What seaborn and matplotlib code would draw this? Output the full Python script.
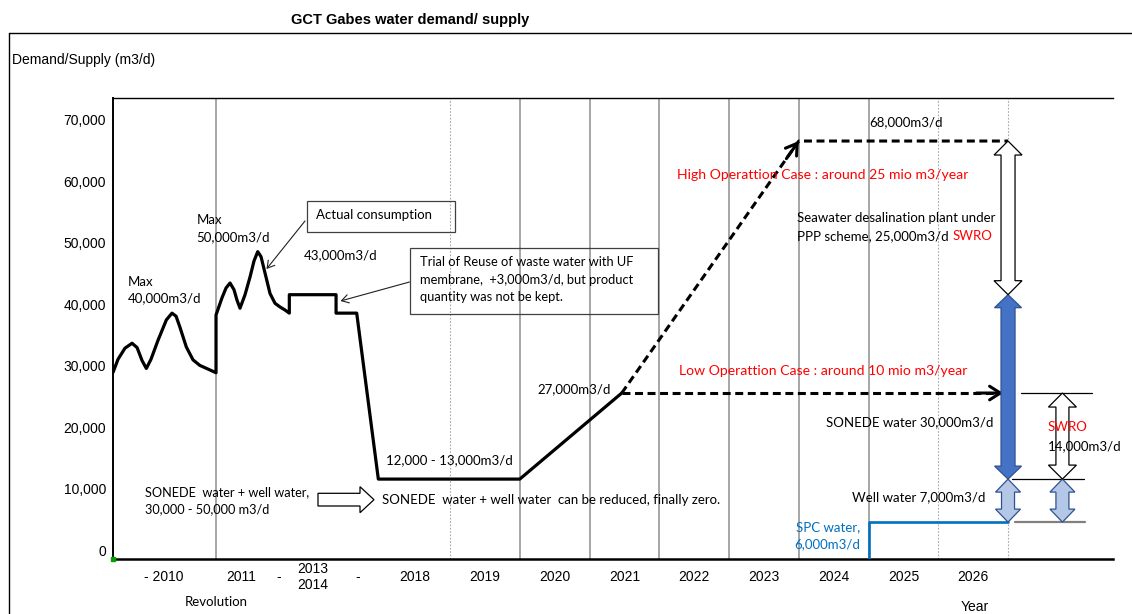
import matplotlib
matplotlib.use("Agg")
import matplotlib.pyplot as plt
from matplotlib.patches import Polygon, Rectangle
from matplotlib.lines import Line2D
from matplotlib.transforms import ScaledTranslation
import seaborn as sns

W, H = 1132, 614

# ---------------- data ----------------
# timeline axis: one unit per year column, 2018 column centred on 4.5
x_limits = (0.168, 14.505)
y_limits = (0, 75000)

tick_pos = [0.90, 2.00, 2.54, 3.03, 3.68, 4.5, 5.5, 6.5, 7.5, 8.5, 9.5, 10.5, 11.5, 12.5]
tick_labels = ["- 2010", "2011", "-", "2013\n2014", "-", "2018", "2019", "2020",
               "2021", "2022", "2023", "2024", "2025", "2026"]
y_ticks = [0, 10000, 20000, 30000, 40000, 50000, 60000, 70000]

solid_dividers = [1.645, 6, 7, 8, 9, 10, 11]
dotted_dividers = [5, 12, 13]

# actual consumption (m3/d)
demand_x = [0.17, 0.24, 0.34, 0.441, 0.513, 0.584, 0.646, 0.713, 0.814, 0.933, 1.014,
            1.072, 1.125, 1.219, 1.315, 1.412, 1.530, 1.645,
            1.645, 1.731, 1.789, 1.846, 1.903, 1.946, 1.989, 2.061, 2.133, 2.190, 2.243,
            2.290, 2.348, 2.419, 2.491, 2.563, 2.635, 2.696,
            2.696, 3.366, 3.366, 3.662, 3.972, 6.0, 7.462]
demand_y = [30400, 32500, 34300, 35100, 34400, 32300, 31000, 32500, 35600, 38900, 40000,
            39500, 37800, 34500, 32400, 31500, 30900, 30300,
            39700, 42500, 44100, 44900, 43800, 42100, 40800, 43000, 45900, 48500, 50000,
            49200, 46500, 43200, 41600, 41000, 40500, 40000,
            43000, 43000, 40000, 40000, 13000, 13000, 27000]

# projections
high_x = [7.462, 10.0, 13.0]
high_y = [27000, 68000, 68000]
low_x = [7.462, 12.93]
low_y = [27000, 27000]

# SPC water supply
spc_x = [11.0, 11.0, 13.0]
spc_y = [0, 6000, 6000]

# supply stack (m3/d)
stack_x = 13.0
stack_x2 = 13.78
spc_water = 6000
well_water = 7000
sonede_water = 30000
swro_high = 25000
swro_low = 14000

# ---------------- figure ----------------
sns.set_theme(style="white")
plt.rcParams["font.family"] = ["Liberation Sans", "DejaVu Sans"]

fig = plt.figure(figsize=(W / 100, H / 100), dpi=100)
ax = fig.add_axes([113 / W, 1 - 559 / H, 1000 / W, 461 / H])
ax.set_xlim(*x_limits)
ax.set_ylim(*y_limits)

px_x = 1000 / (x_limits[1] - x_limits[0])   # pixels per x unit
px_y = 461 / (y_limits[1] - y_limits[0])    # pixels per m3/d

CAL = ["Lato", "DejaVu Sans"]
ARI = ["Liberation Sans", "DejaVu Sans"]
CAL_SIZE = 9.5


def fp(px, py):
    """figure-pixel position measured from the top-left corner"""
    return (px, H - py)


def label(px, py, s, ha="left", color="black", fam=CAL, size=CAL_SIZE, weight="normal"):
    return ax.annotate(s, xy=fp(px, py), xycoords="figure pixels", ha=ha, va="center",
                       color=color, family=fam, fontsize=size, fontweight=weight,
                       annotation_clip=False, zorder=9)


# column dividers
for xv in solid_dividers:
    ax.axvline(xv, color="#A6A6A6", lw=1.4, zorder=1)
for xv in dotted_dividers:
    ax.axvline(xv, color="#A8A8A8", lw=0.8, ls=(0, (1.5, 1.5)), zorder=1)

# consumption line
sns.lineplot(x=demand_x, y=demand_y, sort=False, estimator=None, color="black",
             lw=2.3, ax=ax, zorder=4)
ax.lines[-1].set_solid_joinstyle("round")

# projections (dashed)
dash = (2.6, 1.5)
for xs, ys in [(high_x, high_y), (low_x, low_y)]:
    sns.lineplot(x=xs, y=ys, sort=False, estimator=None, color="black", lw=2.2, ax=ax, zorder=4)
    ax.lines[-1].set_dashes(dash)


# open arrow heads on the projections
def head(x0, y0, x1, y1):
    ax.annotate("", xy=(x1, y1), xytext=(x0 + 0.93 * (x1 - x0), y0 + 0.93 * (y1 - y0)),
                arrowprops=dict(arrowstyle="->,head_length=0.55,head_width=0.35",
                                lw=2.2, color="black", shrinkA=0, shrinkB=0,
                                mutation_scale=14), zorder=5)


head(high_x[0], high_y[0], high_x[1], high_y[1])
head(low_x[0], low_y[0], low_x[1], low_y[1])

# SPC water
sns.lineplot(x=spc_x, y=spc_y, sort=False, estimator=None, color="#0070C0", lw=1.9, ax=ax, zorder=4)


# double-headed block arrows for the supply stack
def block_arrow(x, y0, y1, shaft, width, hlen, fc, ec, lw=0.9):
    hs = shaft / 2 / px_x
    hw = width / 2 / px_x
    hl = hlen / px_y
    verts = [(x, y1), (x + hw, y1 - hl), (x + hs, y1 - hl), (x + hs, y0 + hl),
             (x + hw, y0 + hl), (x, y0), (x - hw, y0 + hl), (x - hs, y0 + hl),
             (x - hs, y1 - hl), (x - hw, y1 - hl)]
    ax.add_patch(Polygon(verts, closed=True, fc=fc, ec=ec, lw=lw, zorder=6, joinstyle="miter"))


well_top = spc_water + well_water
sonede_top = well_top + sonede_water
swro_top = sonede_top + swro_high
low_top = well_top + swro_low

block_arrow(stack_x, spc_water, well_top, 13, 25, 13, "#B4C7E7", "#2F528F")
block_arrow(stack_x, well_top, sonede_top, 14, 27, 13, "#4472C4", "#2F528F")
block_arrow(stack_x, sonede_top, swro_top, 14, 28, 14, "white", "black")
block_arrow(stack_x2, spc_water, well_top, 13, 25, 13, "#B4C7E7", "#2F528F")
block_arrow(stack_x2, well_top, low_top, 13, 28, 14, "white", "black")

# level markers beside the low-case stack
ax.plot([13.18, 14.2], [low_top, low_top], color="black", lw=0.9, clip_on=False)
ax.plot([13.05, 14.09], [well_top, well_top], color="black", lw=0.9, clip_on=False)
ax.plot([13.10, 14.10], [spc_water, spc_water], color="#808080", lw=1.6, clip_on=False)

# origin marker
ax.plot([x_limits[0]], [0], marker="s", ms=3, color="#00A000", clip_on=False, zorder=7)

# axes styling
for side in ["top", "left", "bottom"]:
    ax.spines[side].set_color("black")
ax.spines["top"].set_linewidth(1.0)
ax.spines["left"].set_linewidth(1.4)
ax.spines["bottom"].set_linewidth(1.8)
ax.spines["right"].set_visible(False)
ax.grid(False)

ax.set_yticks(y_ticks)
ax.set_yticklabels([f"{v:,}" for v in y_ticks])
ax.tick_params(axis="y", length=0, pad=5, labelsize=10, labelcolor="black")
shift = ScaledTranslation(0, 0.09, fig.dpi_scale_trans)
for t in ax.get_yticklabels():
    t.set_transform(t.get_transform() + shift)
    t.set_family(ARI)

ax.set_xticks(tick_pos)
ax.set_xticklabels(tick_labels)
ax.tick_params(axis="x", length=0, pad=13, labelsize=10, labelcolor="black")
for t in ax.get_xticklabels():
    t.set_va("center")
    t.set_linespacing(1.15)
    t.set_family(ARI)

# outer chart frame
fig.add_artist(Line2D([9 / W, 9 / W], [0, 1 - 33 / H], color="black", lw=1.0))
fig.add_artist(Line2D([9 / W, 1], [1 - 33 / H, 1 - 33 / H], color="black", lw=1.0))

# titles
label(410, 20, "GCT Gabes water demand/ supply", ha="center", fam=ARI, size=10.5, weight="bold")
label(12, 60, "Demand/Supply (m3/d)", fam=ARI, size=10)
label(975, 607, "Year", ha="center", fam=ARI, size=10)
label(216, 602, "Revolution", ha="center")

# annotations
label(128, 281.5, "Max")
label(128, 298.5, "40,000m3/d")
label(196.5, 220.5, "Max")
label(196.5, 237.5, "50,000m3/d")
label(304, 255, "43,000m3/d")

fig.add_artist(Rectangle(fp(306.5, 231.5), 148.5, 31, transform=None, fill=False, ec="#404040", lw=0.9))
label(316.5, 215, "Actual consumption")
ax.annotate("", xy=fp(266.5, 269), xycoords="figure pixels", xytext=fp(305, 221),
            textcoords="figure pixels",
            arrowprops=dict(arrowstyle="->,head_length=0.5,head_width=0.3", lw=0.8,
                            color="#202020", shrinkA=0, shrinkB=0, mutation_scale=10))

fig.add_artist(Rectangle(fp(409.5, 313.5), 248, 66, transform=None, fill=False, ec="#404040", lw=0.9))
label(420, 262, "Trial of Reuse of waste water with UF", size=9.3)
label(420, 279.5, "membrane,  +3,000m3/d, but product", size=9.3)
label(420, 297, "quantity was not be kept.", size=9.3)
ax.annotate("", xy=fp(340.5, 301), xycoords="figure pixels", xytext=fp(409.5, 282),
            textcoords="figure pixels",
            arrowprops=dict(arrowstyle="->,head_length=0.5,head_width=0.3", lw=0.8,
                            color="#202020", shrinkA=0, shrinkB=0, mutation_scale=10))

label(513, 460, "12,000 - 13,000m3/d", ha="right")
label(611, 389, "27,000m3/d", ha="right")
label(869, 122.5, "68,000m3/d")

label(677, 175, "High Operattion Case : around 25 mio m3/year", color="#FF0000", size=10.1)
label(679, 371, "Low Operattion Case : around 10 mio m3/year", color="#FF0000", size=10.1)

label(797, 218.5, "Seawater desalination plant under")
t_ppp = label(797, 236, "PPP scheme, 25,000m3/d")
ax.annotate("SWRO", xy=(1, 0), xycoords=t_ppp, xytext=(2.5, 0), textcoords="offset points",
            ha="left", va="bottom", color="#FF0000", family=CAL, fontsize=CAL_SIZE,
            annotation_clip=False, zorder=9)

label(993, 422, "SONEDE water 30,000m3/d", ha="right")
label(1048, 427, "SWRO", color="#FF0000")
label(1048, 446, "14,000m3/d")
label(985, 497, "Well water 7,000m3/d", ha="right")
label(860, 527, "SPC water,", ha="right", color="#0070C0")
label(860, 544, "6,000m3/d", ha="right", color="#0070C0")

label(145, 492.5, "SONEDE  water + well water,", size=9.2)
label(145, 509, "30,000 - 50,000 m3/d", size=9.2)
label(382, 500.5, "SONEDE  water + well water  can be reduced, finally zero.")

# outlined right-pointing arrow between the two SONEDE notes
arrow_px = [(318, 493.3), (360, 493.3), (360, 486.7), (374, 499.7), (360, 512.7),
            (360, 506), (318, 506)]
fig.add_artist(Polygon([fp(x, y) for x, y in arrow_px], closed=True, transform=None,
                       fc="white", ec="black", lw=0.9))

fig.savefig("out.png", dpi=100)
